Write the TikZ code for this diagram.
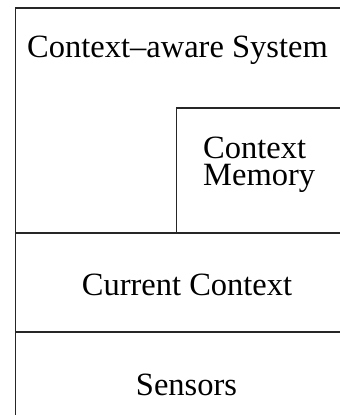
\documentclass[tikz,border=0pt]{standalone}
\usepackage{fontspec}
\setmainfont{Liberation Serif}
\begin{document}
\begin{tikzpicture}[x=1pt,y=-1pt,
  rule/.style={line width=1.3pt,draw=black!85},
  label/.style={inner sep=0pt,font=\fontsize{32.5}{32.5}\selectfont}]
\useasboundingbox (0,0) rectangle (340,415);
% outer frame: left edge and top edge
\draw[rule] (340,8) -- (15.5,8) -- (15.5,415);
% layer separators
\draw[rule] (15.5,233) -- (340,233);
\draw[rule] (15.5,332) -- (340,332);
% memory box inside the system layer
\draw[rule] (176.5,233) -- (176.5,108) -- (340,108);
% labels
\node[label,anchor=base west] (sys) at (27,57) {Context–aware System};
\node[label,anchor=base west] (mem1) at (203,158) {Context};
\node[label,anchor=base west] (mem2) at (203,185) {Memory};
\node[label,anchor=base] (cur) at (187,295) {Current Context};
\node[label,anchor=base] (sen) at (186.5,395) {Sensors};
\end{tikzpicture}
\end{document}
